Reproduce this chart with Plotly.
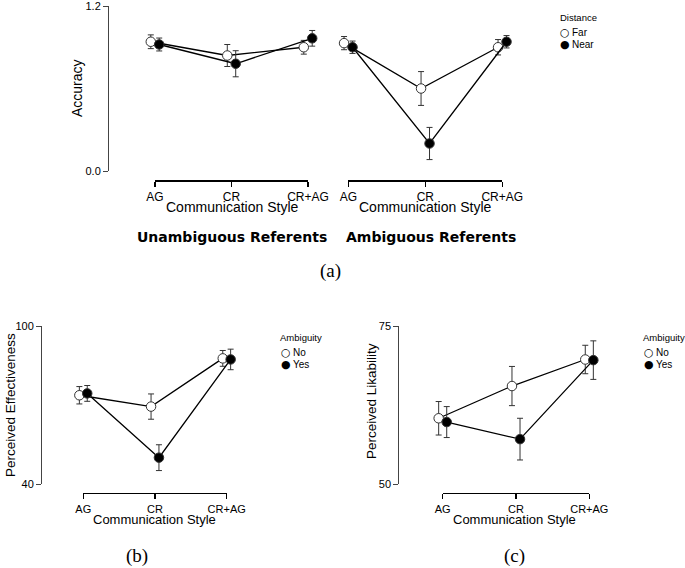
import plotly.graph_objects as go

# ---------------- data ----------------
categories = ["AG", "CR", "CR+AG"]

# (a) Accuracy, Unambiguous referents
acc_unamb_far = [0.94, 0.84, 0.90]
acc_unamb_far_err = [0.05, 0.08, 0.05]
acc_unamb_near = [0.92, 0.78, 0.965]
acc_unamb_near_err = [0.047, 0.095, 0.057]

# (a) Accuracy, Ambiguous referents
acc_amb_far = [0.93, 0.60, 0.90]
acc_amb_far_err = [0.048, 0.123, 0.056]
acc_amb_near = [0.90, 0.20, 0.94]
acc_amb_near_err = [0.045, 0.117, 0.045]

# (b) Perceived effectiveness
eff_no = [73.7, 69.4, 87.7]
eff_no_err = [3.3, 4.8, 3.0]
eff_yes = [74.4, 50.0, 87.3]
eff_yes_err = [3.0, 4.9, 3.9]

# (c) Perceived likability
lik_no = [60.4, 65.5, 69.7]
lik_no_err = [2.65, 3.1, 2.25]
lik_yes = [59.8, 57.1, 69.6]
lik_yes_err = [2.45, 3.3, 3.05]

acc_ticks = [0.0, 1.2]
acc_ticktext = ["0.0", "1.2"]
eff_ticks = [40, 100]
lik_ticks = [50, 75]

# ---------------- layout helpers ----------------
W, H = 685, 568
FONT = "Liberation Sans"


def px(x):
    return x / W


def py(y):
    return 1 - y / H


DODGE = 0.055
PAD = 25  # px of hidden data-axis padding beyond the bracket

panels = [
    dict(xl=155, xr=308, yt=6, yb=171, xline=180, yax=108, yr=[0, 1.2],
         tv=acc_ticks, tt=acc_ticktext, xtf=12, ytf=11),
    dict(xl=348.3, xr=502.3, yt=6, yb=171, xline=180, yax=None, yr=[0, 1.2],
         tv=None, tt=None, xtf=12, ytf=11),
    dict(xl=83.3, xr=226.7, yt=326, yb=484, xline=492.7, yax=41, yr=[40, 100],
         tv=eff_ticks, tt=[str(v) for v in eff_ticks], xtf=11, ytf=11),
    dict(xl=442.7, xr=589.3, yt=326, yb=484, xline=492.7, yax=398.3, yr=[50, 75],
         tv=lik_ticks, tt=[str(v) for v in lik_ticks], xtf=11, ytf=11),
]

series = [
    [(acc_unamb_far, acc_unamb_far_err, "open"), (acc_unamb_near, acc_unamb_near_err, "filled")],
    [(acc_amb_far, acc_amb_far_err, "open"), (acc_amb_near, acc_amb_near_err, "filled")],
    [(eff_no, eff_no_err, "open"), (eff_yes, eff_yes_err, "filled")],
    [(lik_no, lik_no_err, "open"), (lik_yes, lik_yes_err, "filled")],
]

fig = go.Figure()
layout = dict(
    template="none",
    width=W, height=H, autosize=False,
    margin=dict(l=0, r=0, t=0, b=0, pad=0),
    paper_bgcolor="white", plot_bgcolor="rgba(0,0,0,0)",
    showlegend=False,
    font=dict(family=FONT, color="black"),
)

for i, (p, ser) in enumerate(zip(panels, series)):
    k = i + 1
    kd = i + 5
    xs = "" if k == 1 else str(k)
    s = (p["xr"] - p["xl"]) / 2.0
    # hidden data x axis
    layout["xaxis" + xs] = dict(
        domain=[px(p["xl"] - PAD), px(p["xr"] + PAD)],
        range=[-PAD / s, 2 + PAD / s],
        visible=False, anchor="y" + xs, fixedrange=True, automargin=False,
    )
    # y axis
    yaxis = dict(
        domain=[py(p["yb"]), py(p["yt"])],
        range=p["yr"], showgrid=False, zeroline=False, fixedrange=True,
        automargin=False,
    )
    if p["yax"] is None:
        yaxis["visible"] = False
        yaxis["anchor"] = "x" + xs
    else:
        yaxis.update(
            anchor="free", position=px(p["yax"]),
            showline=True, linecolor="#444", linewidth=1,
            ticks="outside", ticklen=5, tickcolor="#444", tickwidth=1,
            tickvals=p["tv"], ticktext=p["tt"], ticklabeloverflow="allow",
            tickfont=dict(size=p["ytf"], family=FONT, color="black"),
        )
    layout["yaxis" + xs] = yaxis
    # visible bracket-style category axis
    layout["xaxis" + str(kd)] = dict(
        domain=[px(p["xl"]), px(p["xr"])],
        range=[0, 2], anchor="free", position=py(p["xline"]),
        showline=True, linecolor="black", linewidth=1.6,
        ticks="outside", ticklen=5, tickcolor="black", tickwidth=1.3,
        tickvals=[0, 1, 2], ticktext=categories, ticklabeloverflow="allow",
        tickfont=dict(size=p["xtf"], family=FONT, color="black"),
        showgrid=False, zeroline=False, fixedrange=True, automargin=False,
    )
    fig.add_trace(go.Scatter(x=[], y=[], xaxis="x" + str(kd), yaxis="y" + xs,
                             showlegend=False, hoverinfo="skip"))

    for j, (vals, errs, kind) in enumerate(ser):
        off = -DODGE if j == 0 else DODGE
        xv = [c + off for c in range(len(categories))]
        fig.add_trace(go.Scatter(
            x=xv, y=vals, mode="lines+markers",
            xaxis="x" + xs, yaxis="y" + xs,
            line=dict(color="black", width=1.3),
            marker=dict(size=9.5, symbol="circle",
                        color="white" if kind == "open" else "black",
                        line=dict(color="#333", width=1)),
            error_y=dict(type="data", array=errs, visible=True,
                         color="#333", thickness=1, width=3),
            cliponaxis=False, showlegend=False,
            hovertext=categories,
        ))

ann = []


def txt(text, x, y, size, angle=0, family=FONT, xanchor="center"):
    ann.append(dict(text=text, x=px(x), y=py(y), xref="paper", yref="paper",
                    showarrow=False, xanchor=xanchor, yanchor="middle",
                    textangle=angle, borderpad=0,
                    font=dict(size=size, family=family, color="black")))


# axis titles
txt("Accuracy", 77, 88, 14, angle=-90)
txt("Communication Style", 231.5, 207, 14)
txt("Communication Style", 425.3, 207, 14)
txt("<b>Unambiguous Referents</b>", 232, 237, 14, family="DejaVu Sans")
txt("<b>Ambiguous Referents</b>", 431, 237, 14, family="DejaVu Sans")
txt("(a)", 330, 271, 19, family="Liberation Serif")

txt("Perceived Effectiveness", 10, 405, 13.5, angle=-90)
txt("Communication Style", 154.5, 519, 13)
txt("(b)", 137, 556, 19, family="Liberation Serif")

txt("Perceived Likability", 371, 401, 13.5, angle=-90)
txt("Communication Style", 514.5, 519, 13)
txt("(c)", 514, 556, 19, family="Liberation Serif")


# legends: glyph + label
def legend(title, tx, ty, mx, labels):
    txt(title, tx, ty, 9.5, xanchor="left")
    for n, lab in enumerate(labels):
        yy = ty + 15 + 12 * n
        txt("○" if n == 0 else "●", mx, yy, 11, family="DejaVu Sans")
        txt(lab, mx + 6, yy, 10, xanchor="left")


legend("Distance", 559, 17, 565, ["Far", "Near"])
legend("Ambiguity", 279, 337, 286, ["No", "Yes"])
legend("Ambiguity", 642, 337, 649, ["No", "Yes"])

layout["annotations"] = ann
fig.update_layout(**layout)
fig.write_html(
    "out.html",
    config={"displayModeBar": False, "staticPlot": True},
    post_script="document.body.style.margin='0';document.body.style.overflow='hidden';",
)
